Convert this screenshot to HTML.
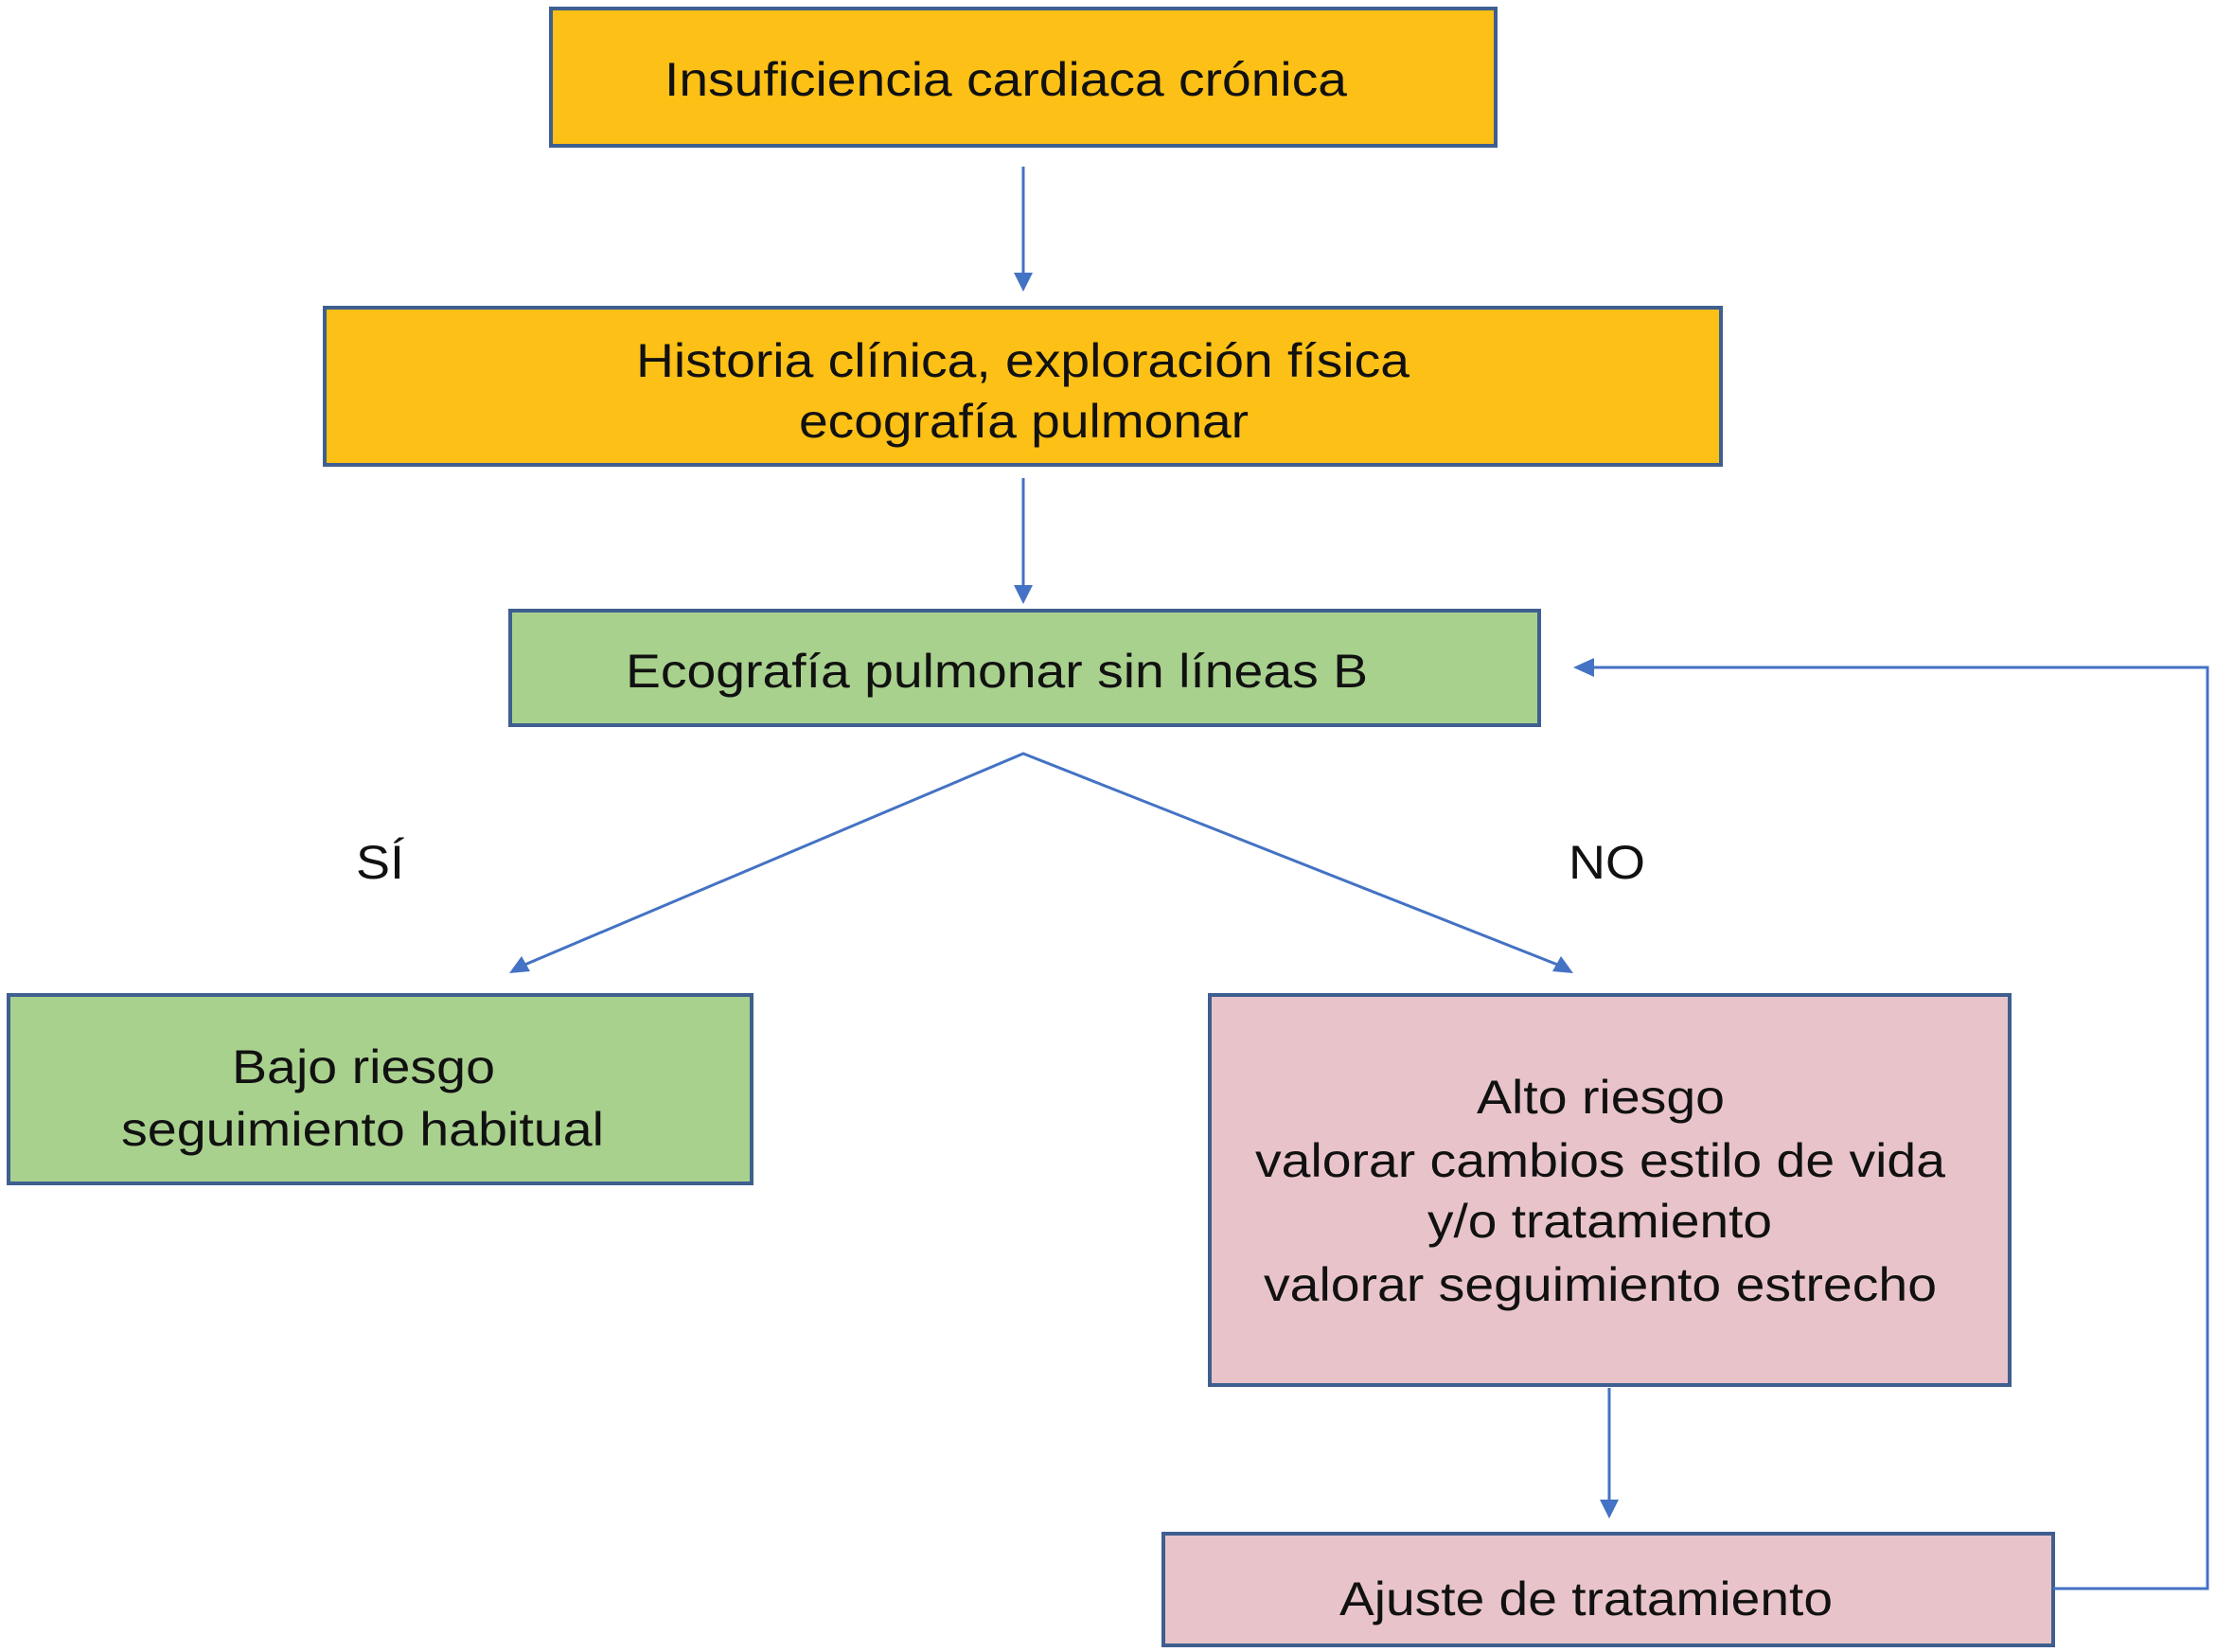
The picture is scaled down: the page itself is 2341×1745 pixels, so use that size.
<!DOCTYPE html>
<html><head><meta charset="utf-8"><style>html,body{margin:0;padding:0;background:#fff}svg{display:block}</style></head>
<body>
<svg width="2341" height="1745" viewBox="0 0 2341 1745" xmlns="http://www.w3.org/2000/svg" font-family="'Liberation Sans', Arial, sans-serif" font-size="50" fill="#111">
<defs>
<marker id="ah" markerWidth="8" markerHeight="8" refX="7" refY="4" orient="auto" markerUnits="userSpaceOnUse" viewBox="0 0 8 8">
</marker>
</defs>
<g stroke="#3E5F8F" stroke-width="4">
<rect x="582" y="9" width="998" height="145" fill="#FDC016"/>
<rect x="343" y="325" width="1475" height="166" fill="#FDC016"/>
<rect x="539" y="645" width="1087" height="121" fill="#A9D18E"/>
<rect x="9" y="1051" width="785" height="199" fill="#A9D18E"/>
<rect x="1278" y="1051" width="845" height="412" fill="#E8C4CA"/>
<rect x="1229" y="1620" width="940" height="118" fill="#E8C4CA"/>
</g>
<g stroke="#4472C4" stroke-width="3" fill="none">
<line x1="1081" y1="176" x2="1081" y2="290"/>
<line x1="1081" y1="505" x2="1081" y2="620"/>
<polyline points="552,1020 1081,796 1648,1020"/>
<line x1="1700" y1="1466" x2="1700" y2="1586"/>
<polyline points="2169,1678 2332,1678 2332,705 1680,705"/>
</g>
<g fill="#4472C4">
<polygon points="1071,288 1091,288 1081,308"/>
<polygon points="1071,618 1091,618 1081,638"/>
<polygon points="1690,1584 1710,1584 1700,1604"/>
<polygon points="1662,705 1684,695 1684,715"/>
<polygon points="538,1028 551,1010 560,1026"/>
<polygon points="1662,1028 1640,1026 1649,1010"/>
</g>
<g text-anchor="start">
<text x="702" y="101" textLength="721" lengthAdjust="spacingAndGlyphs">Insuficiencia cardiaca crónica</text>
<text x="672" y="398" textLength="817" lengthAdjust="spacingAndGlyphs">Historia clínica, exploración física</text>
<text x="844" y="462" textLength="475" lengthAdjust="spacingAndGlyphs">ecografía pulmonar</text>
<text x="661" y="726" textLength="784" lengthAdjust="spacingAndGlyphs">Ecografía pulmonar sin líneas B</text>
<text x="376" y="928" textLength="51" lengthAdjust="spacingAndGlyphs">SÍ</text>
<text x="1657" y="928" textLength="81" lengthAdjust="spacingAndGlyphs">NO</text>
<text x="245" y="1144" textLength="278" lengthAdjust="spacingAndGlyphs">Bajo riesgo</text>
<text x="128" y="1210" textLength="510" lengthAdjust="spacingAndGlyphs">seguimiento habitual</text>
<text x="1560" y="1176" textLength="262" lengthAdjust="spacingAndGlyphs">Alto riesgo</text>
<text x="1326" y="1243" textLength="729" lengthAdjust="spacingAndGlyphs">valorar cambios estilo de vida</text>
<text x="1508" y="1307" textLength="364" lengthAdjust="spacingAndGlyphs">y/o tratamiento</text>
<text x="1335" y="1374" textLength="711" lengthAdjust="spacingAndGlyphs">valorar seguimiento estrecho</text>
<text x="1415" y="1706" textLength="521" lengthAdjust="spacingAndGlyphs">Ajuste de tratamiento</text>
</g>
</svg>
</body></html>
